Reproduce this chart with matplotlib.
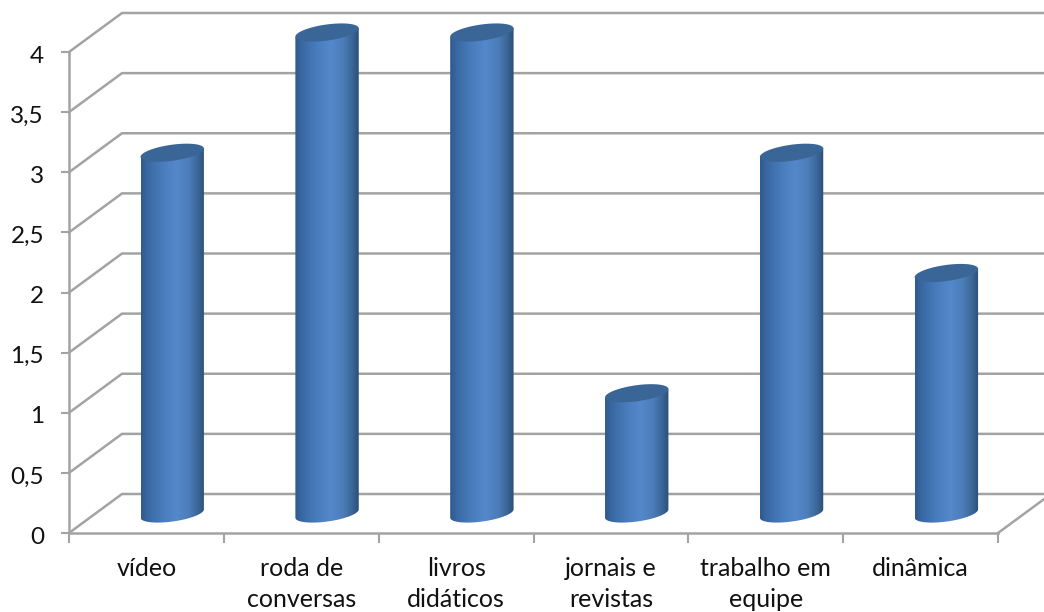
import numpy as np
import matplotlib.pyplot as plt
from matplotlib.colors import LinearSegmentedColormap
from matplotlib.patches import Polygon
from matplotlib.transforms import ScaledTranslation

plt.rcParams['font.family'] = ['Lato', 'DejaVu Sans']

categories = ['vídeo', 'roda de\nconversas', 'livros\ndidáticos',
              'jornais e\nrevistas', 'trabalho em\nequipe', 'dinâmica']
values = [3, 4, 4, 1, 3, 2]
y_ticks = [0, 0.5, 1, 1.5, 2, 2.5, 3, 3.5, 4]
y_labels = ['0', '0,5', '1', '1,5', '2', '2,5', '3', '3,5', '4']

GRID = '#a3a3a3'
W, H = 1044, 612
# plot box in pixels
LEFT, RIGHT, TOP, BOTTOM = 69, 998, 52, 533
# 3d depth of the fake chart, in pixels
DEPTH_X, DEPTH_Y = 53, 39

fig = plt.figure(figsize=(W / 100, H / 100), dpi=100, facecolor='white')
ax = fig.add_axes([LEFT / W, 1 - BOTTOM / H, (RIGHT - LEFT) / W, (BOTTOM - TOP) / H])
ax.set_xlim(0, len(categories))
ax.set_ylim(0, 4)
ax.patch.set_alpha(0)

sx = (RIGHT - LEFT) / len(categories)
sy = (BOTTOM - TOP) / 4
dx, dy = DEPTH_X / sx, DEPTH_Y / sy

# walls: one bent line per tick, plus the floor edge on the right
for v in y_ticks:
    ax.plot([0, dx, len(categories) + dx], [v, v + dy, v + dy], color=GRID, lw=1.8,
            clip_on=False, zorder=1, solid_joinstyle='miter')
ax.plot([len(categories), len(categories) + dx], [0, dy], color=GRID, lw=1.8,
        clip_on=False, zorder=1)

for s in ['top', 'right']:
    ax.spines[s].set_visible(False)
for s in ['left', 'bottom']:
    ax.spines[s].set_color(GRID)
    ax.spines[s].set_linewidth(1.8)

ax.set_yticks(y_ticks)
ax.set_yticklabels(y_labels)
ax.set_xticks(np.arange(len(categories) + 1))
ax.set_xticklabels([])
ax.set_xticks(np.arange(len(categories)) + 0.5, categories, minor=True, linespacing=1.42, va='top')
ax.tick_params(axis='y', length=6, width=1.5, color=GRID, labelsize=17.5, pad=12, labelcolor='#111111')
ax.tick_params(axis='x', which='major', length=7, width=1.5, color=GRID)
ax.tick_params(axis='x', which='minor', length=0, labelsize=18, pad=17.5, labelcolor='#111111')

# y labels sit a little below their ticks
nudge = ScaledTranslation(0, -1.5 / 72, fig.dpi_scale_trans)
for lab in ax.get_yticklabels():
    lab.set_transform(lab.get_transform() + nudge)

# cylinders
cmap = LinearSegmentedColormap.from_list('cyl', [
    (0.0, '#2f5a8d'), (0.12, '#3a6aa5'), (0.35, '#4a7dbd'), (0.55, '#5588cb'),
    (0.75, '#4c7db9'), (0.9, '#3a6596'), (1.0, '#2b4e78')])
gradient = np.linspace(0, 1, 256).reshape(1, -1)

BAR_RX, BAR_RY, TILT = 32, 8, np.radians(8)
t = np.linspace(0, 2 * np.pi, 73)
ex = BAR_RX * np.cos(t) * np.cos(TILT) - BAR_RY * np.sin(t) * np.sin(TILT)
ey = BAR_RX * np.cos(t) * np.sin(TILT) + BAR_RY * np.sin(t) * np.cos(TILT)
ex, ey = ex / sx, ey / sy

for i, v in enumerate(values):
    cx = i + 0.5 + dx / 2 - 0.7 / sx
    base = dy / 2
    top = v + dy / 2
    left, right = (cx + ex).min(), (cx + ex).max()
    # body outline: front half of the bottom ellipse, then straight up and across
    low = (t >= np.pi) & (t <= 2 * np.pi)
    body_x = np.concatenate([cx + ex[low], [right, left]])
    body_y = np.concatenate([base + ey[low], [top + ey[low][-1], top + ey[low][0]]])
    body = Polygon(np.column_stack([body_x, body_y]), closed=True, facecolor='none',
                   edgecolor='none', transform=ax.transData, clip_on=False)
    ax.add_patch(body)
    im = ax.imshow(gradient, extent=[left, right, base - 0.2, top + 0.2], cmap=cmap,
                   aspect='auto', zorder=3)
    im.set_clip_box(fig.bbox)
    im.set_clip_path(body)
    ax.fill(cx + ex, top + ey, color='#3a6597', zorder=4, clip_on=False, lw=0)

ax.set_xlim(0, len(categories))
ax.set_ylim(0, 4)
fig.savefig('out.png', dpi=100, facecolor='white')
